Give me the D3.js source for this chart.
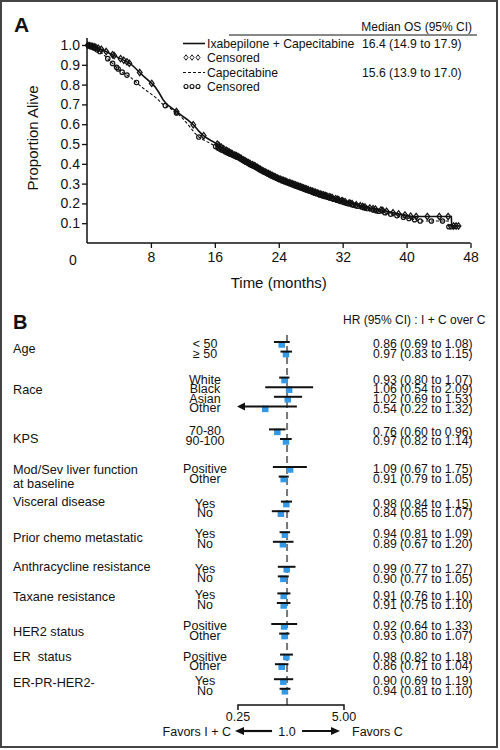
<!DOCTYPE html>
<html><head><meta charset="utf-8">
<script src="https://cdn.jsdelivr.net/npm/d3@7"></script>
<style>
body{margin:0;background:#fff}
svg{display:block}
text{font-family:"Liberation Sans",Arial,Helvetica,sans-serif;fill:#111}
</style>
</head><body>
<svg id="c" width="500" height="750"></svg>
<script>
// ---------- Panel A data ----------
const kmTimesIC = [0,0.5,1,1.5,2,2.5,3,3.5,4,4.5,5,5.5,6,6.5,7,7.5,8,8.5,9,9.5,10,10.5,11,11.5,12,12.5,13,13.5,14,14.5,15,15.5,16,16.5,17,18,19,20,21,22,23,24,25,26,27,28,29,30,31,32,33,34,35,36,37,38,39,40,40.7,45.6,45.65,46.7];
const kmSurvIC  = [1,0.995,0.99,0.983,0.975,0.965,0.955,0.945,0.935,0.925,0.915,0.903,0.885,0.865,0.845,0.828,0.81,0.79,0.76,0.725,0.7,0.685,0.67,0.655,0.64,0.625,0.608,0.59,0.565,0.545,0.53,0.518,0.507,0.494,0.478,0.455,0.435,0.41,0.39,0.365,0.345,0.325,0.31,0.295,0.28,0.265,0.25,0.238,0.225,0.213,0.2,0.19,0.18,0.172,0.165,0.155,0.147,0.14,0.134,0.134,0.086,0.086];
const kmTimesC  = [0,0.5,1,1.5,2,2.5,3,3.5,4,4.5,5,5.5,6,6.5,7,7.5,8,8.5,9,9.5,10,10.5,11,11.5,12,12.5,13,13.5,14,14.5,15,15.5,16,16.5,17,18,19,20,21,22,23,24,25,26,27,28,29,30,31,32,33,34,35,36,37,38,39,40,41,41.5,45.2,45.25,45.8];
const kmSurvC   = [1,0.993,0.983,0.97,0.955,0.935,0.915,0.895,0.875,0.86,0.848,0.835,0.818,0.8,0.783,0.768,0.753,0.738,0.72,0.7,0.69,0.678,0.662,0.648,0.628,0.605,0.58,0.555,0.535,0.523,0.512,0.502,0.49,0.478,0.467,0.448,0.43,0.405,0.385,0.362,0.342,0.322,0.306,0.29,0.275,0.26,0.245,0.232,0.22,0.207,0.195,0.185,0.175,0.165,0.156,0.146,0.136,0.126,0.118,0.111,0.111,0.082,0.082];
const censorIC = [0.1,0.3,0.5,0.7,0.9,1.1,1.4,1.8,2.4,3.2,3.4,4.2,4.6,5.0,5.3,6.6,8.1,11.2,13.3,14.6,16.3,16.5,16.8,17.1,17.4,17.6,17.8,18.0,18.2,18.5,18.7,18.9,19.1,19.3,19.6,19.8,20.0,20.2,20.4,20.7,20.9,21.1,21.3,21.5,21.7,21.9,22.1,22.3,22.5,22.7,22.9,23.0,23.2,23.4,23.6,23.8,24.0,24.2,24.4,24.6,24.8,25.0,25.3,25.5,25.7,25.9,26.1,26.3,26.5,26.7,26.9,27.1,27.3,27.5,27.7,28.0,28.2,28.4,28.6,28.8,29.0,29.2,29.4,29.6,29.8,30.0,30.3,30.5,30.7,31.1,31.3,31.5,31.9,32.0,32.3,32.8,33.0,33.2,33.7,34.2,34.5,34.8,35.4,35.8,36.1,36.8,37.0,37.5,38.3,39.0,39.8,40.5,41.2,42.6,44.1,45.2,45.9,46.2,46.5];
const censorC  = [0.2,0.4,0.6,0.8,1.0,1.3,1.6,2.6,3.2,3.7,3.9,4.4,5.0,6.2,9.8,11.2,14.0,16.1,16.4,16.6,16.8,17.0,17.3,17.5,17.7,17.9,18.0,18.2,18.4,18.6,18.8,19.1,19.3,19.5,19.7,19.9,20.2,20.4,20.6,20.8,21.0,21.2,21.4,21.6,21.8,22.1,22.3,22.5,22.7,22.9,23.1,23.3,23.5,23.7,23.9,24.1,24.4,24.6,24.8,25.0,25.2,25.4,25.6,25.8,26.0,26.2,26.4,26.6,26.8,27.1,27.3,27.5,27.7,27.9,28.1,28.3,28.5,28.7,29.1,29.3,29.5,29.7,29.9,30.2,30.4,30.7,30.9,31.3,31.6,31.8,32.2,32.5,32.7,33.3,33.6,33.9,34.5,34.8,35.1,35.8,36.2,36.5,37.3,38.0,38.8,39.6,40.3,41.0,41.7,43.1,44.5,45.3,45.6];
const kmXTicks = [8,16,24,32,40,48];
const kmYTicks = [0.1,0.2,0.3,0.4,0.5,0.6,0.7,0.8,0.9,1.0];
const legendNames = ["Ixabepilone + Capecitabine","Censored","Capecitabine","Censored"];
const legendMedians = ["16.4 (14.9 to 17.9)","","15.6 (13.9 to 17.0)",""];

// ---------- Panel B data ----------
const groupLabels = [["Age"],["Race"],["KPS"],["Mod/Sev liver function","at baseline"],["Visceral disease"],["Prior chemo metastatic"],["Anthracycline resistance"],["Taxane resistance"],["HER2 status"],["ER\u00a0 status"],["ER-PR-HER2-"]];
const rowGroup  = [0,0,1,1,1,1,2,2,3,3,4,4,5,5,6,6,7,7,8,8,9,9,10,10];
const rowLabels = ["< 50","\u2265 50","White","Black","Asian","Other","70-80","90-100","Positive","Other","Yes","No","Yes","No","Yes","No","Yes","No","Positive","Other","Positive","Other","Yes","No"];
const hrVals = [0.86,0.97,0.93,1.06,1.02,0.54,0.76,0.97,1.09,0.91,0.98,0.84,0.94,0.89,0.99,0.90,0.91,0.91,0.92,0.93,0.98,0.86,0.90,0.94];
const ciLow  = [0.69,0.83,0.80,0.54,0.69,0.22,0.60,0.82,0.67,0.79,0.84,0.65,0.81,0.67,0.77,0.77,0.76,0.75,0.64,0.80,0.82,0.71,0.69,0.81];
const ciHigh = [1.08,1.15,1.07,2.09,1.53,1.32,0.96,1.14,1.75,1.05,1.15,1.07,1.09,1.20,1.27,1.05,1.10,1.10,1.33,1.07,1.18,1.04,1.19,1.10];
const forestTicks = [0.25,5.00];

// ---------- drawing ----------
const svg = d3.select("#c");
svg.append("rect").attr("x",1).attr("y",1).attr("width",496).attr("height",746)
  .attr("fill","none").attr("stroke","#444").attr("stroke-width",2);

// Panel A
svg.append("text").attr("x",14).attr("y",32).attr("font-size",21).attr("font-weight","bold").text("A");
const x = d3.scaleLinear().domain([0,48]).range([87,470.5]);
const y = d3.scaleLinear().domain([0,1]).range([243,45]);

const gA = svg.append("g");
const yAxis = d3.axisLeft(y).tickValues(kmYTicks).tickFormat(d3.format(".1f")).tickSize(5).tickPadding(2);
const ya = gA.append("g").attr("transform",`translate(${x(0)},0)`).call(yAxis);
ya.select(".domain").remove();
ya.selectAll("text").attr("font-size",14).attr("fill","#111").attr("font-family","Liberation Sans, Arial, sans-serif");
ya.selectAll("line").attr("stroke","#111").attr("stroke-width",1.3);
gA.append("line").attr("x1",x(0)).attr("x2",x(0)).attr("y1",y(0)).attr("y2",y(1)-7).attr("stroke","#111").attr("stroke-width",1.5);

const xAxis = d3.axisBottom(x).tickValues(kmXTicks).tickSize(5).tickPadding(4);
const xa = gA.append("g").attr("transform",`translate(0,${y(0)})`).call(xAxis);
xa.select(".domain").remove();
xa.selectAll("text").attr("font-size",14).attr("fill","#111").attr("font-family","Liberation Sans, Arial, sans-serif");
xa.selectAll("line").attr("stroke","#111").attr("stroke-width",1.3);
gA.append("line").attr("x1",x(0)).attr("x2",x(48)).attr("y1",y(0)).attr("y2",y(0)).attr("stroke","#111").attr("stroke-width",1.5);
gA.append("text").attr("x",x(0)-14).attr("y",y(0)+22).attr("font-size",14).attr("text-anchor","middle").text("0");

gA.append("text").attr("x",(x(0)+x(48))/2).attr("y",288).attr("font-size",15).attr("text-anchor","middle").text("Time (months)");
gA.append("text").attr("transform","translate(38,138) rotate(-90)").attr("font-size",15).attr("text-anchor","middle").text("Proportion Alive");

const kmLine = d3.line().x(d=>x(d[0])).y(d=>y(d[1]));
const icData = kmTimesIC.map((t,i)=>[t,kmSurvIC[i]]);
const cData = kmTimesC.map((t,i)=>[t,kmSurvC[i]]);
gA.append("path").attr("d",kmLine(cData)).attr("fill","none").attr("stroke","#111").attr("stroke-width",1.1).attr("stroke-dasharray","3,2");
gA.append("path").attr("d",kmLine(icData)).attr("fill","none").attr("stroke","#111").attr("stroke-width",1.6);

const survIC = d3.scaleLinear().domain(kmTimesIC).range(kmSurvIC).clamp(true);
const survC = d3.scaleLinear().domain(kmTimesC).range(kmSurvC).clamp(true);
const diamond = "M0,-3.2L2.4,0L0,3.2L-2.4,0Z";
gA.append("g").selectAll("circle").data(censorC).join("circle")
  .attr("cx",d=>x(d)).attr("cy",d=>y(survC(d))).attr("r",2.2)
  .attr("fill","none").attr("stroke","#111").attr("stroke-width",1.2);
gA.append("g").selectAll("path").data(censorIC).join("path")
  .attr("d",diamond).attr("transform",d=>`translate(${x(d)},${y(survIC(d))})`)
  .attr("fill","none").attr("stroke","#111").attr("stroke-width",1.2);

// legend
const lg = svg.append("g");
lg.append("text").attr("x",472).attr("y",31).attr("font-size",12).attr("text-anchor","end").text("Median OS (95% CI)");
lg.append("line").attr("x1",229).attr("x2",477).attr("y1",35).attr("y2",35).attr("stroke","#111").attr("stroke-width",1);
const lgBase = [48,62,77,91];
legendNames.forEach((n,i)=>{
  lg.append("text").attr("x",207).attr("y",lgBase[i]).attr("font-size",12.2).text(n);
  if(legendMedians[i]) lg.append("text").attr("x",362).attr("y",lgBase[i]).attr("font-size",12.2).text(legendMedians[i]);
  const cy = lgBase[i]-4.5;
  if(i===0) lg.append("line").attr("x1",183).attr("x2",205).attr("y1",cy).attr("y2",cy).attr("stroke","#111").attr("stroke-width",1.6);
  if(i===2) lg.append("line").attr("x1",183).attr("x2",205).attr("y1",cy).attr("y2",cy).attr("stroke","#111").attr("stroke-width",1.1).attr("stroke-dasharray","3,2");
  if(i===1) [186,192,198].forEach(px=>lg.append("path").attr("d",diamond).attr("transform",`translate(${px},${cy}) scale(0.85)`).attr("fill","none").attr("stroke","#111").attr("stroke-width",1.1));
  if(i===3) [186,192,198].forEach(px=>lg.append("circle").attr("cx",px).attr("cy",cy).attr("r",2).attr("fill","none").attr("stroke","#111").attr("stroke-width",1.1));
});

// Panel B
svg.append("text").attr("x",13).attr("y",329).attr("font-size",20).attr("font-weight","bold").text("B");
svg.append("text").attr("x",343).attr("y",324).attr("font-size",12).text("HR (95% CI) : I + C over C");

const fx = d3.scaleLog().domain([0.25,5]).range([238,344]);
// layout of rows
const groupGap = [26,23,28,25,21,25,17,21,21,15];
const rowPitch = 9.6;
const groupLabelOffset = [6,12,9,2,0,5,0,3,7,2,3];
const rowY = []; const groupStart = [];
let cur = 342;
rowGroup.forEach((g,i)=>{
  if(i>0){ cur += (g!==rowGroup[i-1]) ? groupGap[rowGroup[i-1]] : rowPitch; }
  if(groupStart[g]===undefined) groupStart[g]=cur;
  rowY.push(cur);
});
const gB = svg.append("g");
groupLabels.forEach((lines,g)=>{
  lines.forEach((ln,k)=>{
    gB.append("text").attr("x",13).attr("y",groupStart[g]+groupLabelOffset[g]+4.5+k*14).attr("font-size",12.7).text(ln);
  });
});
gB.selectAll("text.sub").data(rowLabels).join("text").attr("class","sub")
  .attr("x",205).attr("y",(d,i)=>rowY[i]+1.5+4.4).attr("text-anchor","middle").attr("font-size",12.5).text(d=>d);
const f2 = d3.format(".2f");
gB.selectAll("text.hr").data(hrVals).join("text").attr("class","hr")
  .attr("x",373).attr("y",(d,i)=>rowY[i]+2+4.2).attr("font-size",12.2)
  .text((d,i)=>`${f2(d)} (${f2(ciLow[i])} to ${f2(ciHigh[i])})`);

// reference line
gB.append("line").attr("x1",fx(1)).attr("x2",fx(1)).attr("y1",335).attr("y2",705)
  .attr("stroke","#777").attr("stroke-width",2).attr("stroke-dasharray","7,4");
// squares
const sq = 6.5;
gB.selectAll("rect.sq").data(hrVals).join("rect").attr("class","sq")
  .attr("x",d=>fx(d)-sq/2).attr("y",(d,i)=>rowY[i]+2.5-sq/2).attr("width",sq).attr("height",sq)
  .attr("fill","#3399e6");
// CI lines
hrVals.forEach((d,i)=>{
  const xl = ciLow[i] < 0.25 ? fx(0.25)+5 : fx(ciLow[i]);
  gB.append("line").attr("x1",xl).attr("x2",fx(ciHigh[i])).attr("y1",rowY[i]).attr("y2",rowY[i])
    .attr("stroke","#111").attr("stroke-width",2);
  if(ciLow[i] < 0.25){
    const tx = fx(0.25)-1, yy = rowY[i];
    gB.append("path").attr("d",`M${tx},${yy}L${tx+8},${yy-4}L${tx+8},${yy+4}Z`).attr("fill","#111");
  }
});
// forest axis
const ay = 705;
gB.append("path").attr("d",`M${fx(0.25)},${ay+5}V${ay}H${fx(5)}V${ay+5}`).attr("fill","none").attr("stroke","#111").attr("stroke-width",1.5);
gB.selectAll("text.ft").data(forestTicks).join("text").attr("class","ft")
  .attr("x",d=>fx(d)).attr("y",721).attr("text-anchor","middle").attr("font-size",12.5).text(d=>f2(d));
gB.append("text").attr("x",fx(1)).attr("y",735.5).attr("text-anchor","middle").attr("font-size",12.5).text("1.0");
const arY = 731;
gB.append("line").attr("x1",fx(1)-15).attr("x2",fx(0.25)+4).attr("y1",arY).attr("y2",arY).attr("stroke","#111").attr("stroke-width",2.2);
gB.append("path").attr("d",`M${fx(0.25)-3},${arY}L${fx(0.25)+6},${arY-4}L${fx(0.25)+6},${arY+4}Z`).attr("fill","#111");
gB.append("line").attr("x1",fx(1)+15).attr("x2",fx(5)-9).attr("y1",arY).attr("y2",arY).attr("stroke","#111").attr("stroke-width",2.2);
gB.append("path").attr("d",`M${fx(5)-4},${arY}L${fx(5)-13},${arY-4}L${fx(5)-13},${arY+4}Z`).attr("fill","#111");
gB.append("text").attr("x",231).attr("y",735.5).attr("text-anchor","end").attr("font-size",12.5).text("Favors I + C");
gB.append("text").attr("x",352).attr("y",735.5).attr("font-size",12.5).text("Favors C");
</script>
</body></html>
